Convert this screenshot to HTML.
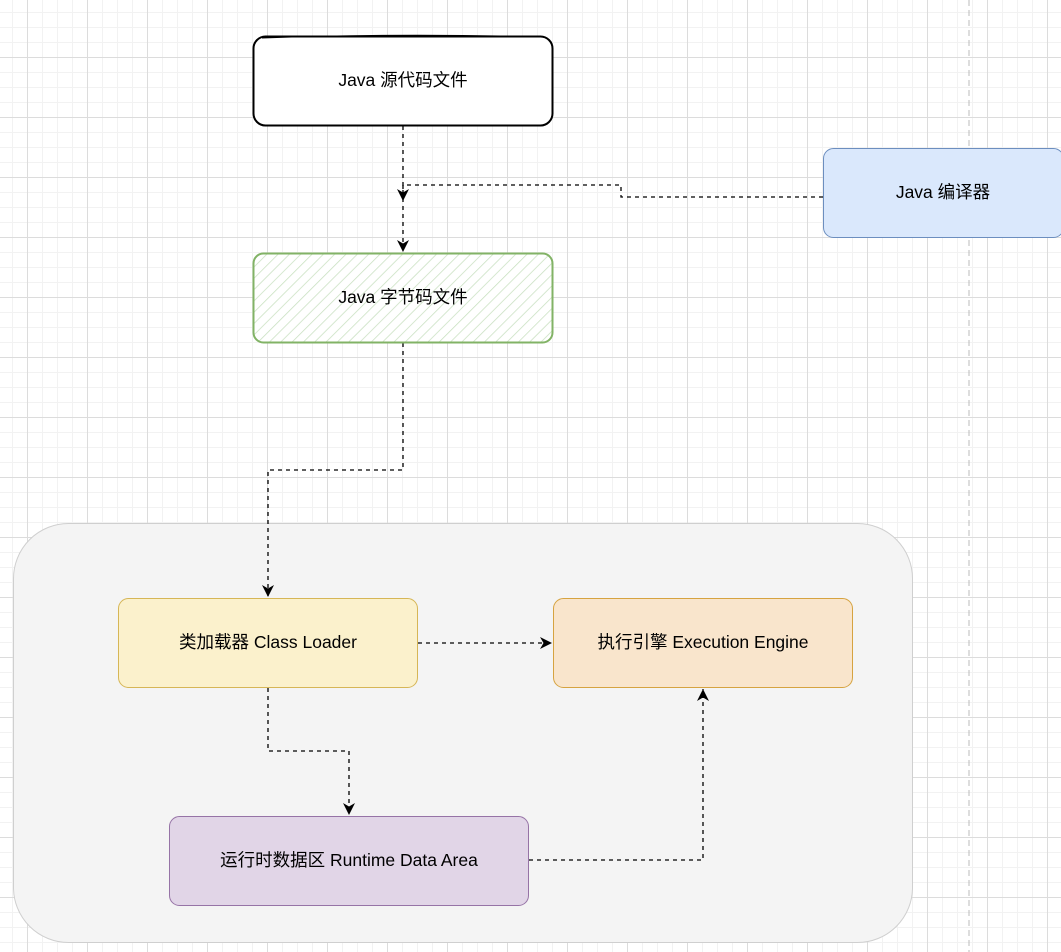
<!DOCTYPE html>
<html><head><meta charset="utf-8"><style>
html,body{margin:0;padding:0;background:#fff;}
svg{display:block;}
text{font-family:"Liberation Sans","Noto Sans CJK SC",sans-serif;font-size:17.5px;fill:#000;}
</style></head><body>
<svg width="1061" height="952" viewBox="0 0 1061 952" xmlns="http://www.w3.org/2000/svg">
<defs>
<pattern id="minor" width="15" height="15" patternUnits="userSpaceOnUse" x="12" y="12">
<path d="M0 0.5H15M0.5 0V15" stroke="#f2f2f2" stroke-width="1" fill="none"/>
</pattern>
<pattern id="major" width="60" height="60" patternUnits="userSpaceOnUse" x="27" y="-3">
<path d="M0 0.5H60M0.5 0V60" stroke="#dcdcdc" stroke-width="1" fill="none"/>
</pattern>
<pattern id="hatch" width="8" height="8" patternUnits="userSpaceOnUse" patternTransform="rotate(45)">
<line x1="0" y1="0" x2="0" y2="8" stroke="#c8e0c0" stroke-width="1.5"/>
</pattern>
<marker id="ar" markerWidth="14" markerHeight="14" refX="12" refY="6" orient="auto" markerUnits="userSpaceOnUse">
<path d="M0 0L12 6L0 12L3.5 6Z" fill="#000"/>
</marker>
</defs>
<rect width="1061" height="952" fill="url(#minor)"/>
<rect width="1061" height="952" fill="url(#major)"/>
<line x1="969" y1="0" x2="969" y2="952" stroke="#bbb" stroke-dasharray="6 4"/>

<rect x="13.5" y="523.5" width="899" height="419" rx="55" fill="#f4f4f4" stroke="#cfcfcf"/>

<g fill="none" stroke="#000" stroke-width="1.3" stroke-dasharray="4 4">
<path d="M403 126V252" marker-end="url(#ar)"/>
<path d="M823 197H621V185H403V201" marker-end="url(#ar)"/>
<path d="M403 343V470H268V597" marker-end="url(#ar)"/>
<path d="M418 643H552" marker-end="url(#ar)"/>
<path d="M268 688V751H349V815" marker-end="url(#ar)"/>
<path d="M529 860H703V689" marker-end="url(#ar)"/>
</g>

<rect x="253.5" y="36.5" width="299" height="89" rx="12" fill="#fff" stroke="#000" stroke-width="2"/>
<path d="M262 38 Q400 33 545 37" stroke="#000" fill="none" stroke-width="1"/>
<text x="403" y="86" text-anchor="middle">Java 源代码文件</text>

<rect x="253.5" y="253.5" width="299" height="89" rx="10" fill="#fff" stroke="none"/>
<rect x="253.5" y="253.5" width="299" height="89" rx="10" fill="url(#hatch)" stroke="#82b366" stroke-width="2"/>
<text x="403" y="303" text-anchor="middle">Java 字节码文件</text>

<rect x="823.5" y="148.5" width="240" height="89" rx="10" fill="#dae8fc" stroke="#6c8ebf"/>
<text x="943" y="198" text-anchor="middle">Java 编译器</text>

<rect x="118.5" y="598.5" width="299" height="89" rx="10" fill="#fbf1cc" stroke="#d6b656"/>
<text x="268" y="648" text-anchor="middle">类加载器 Class Loader</text>

<rect x="553.5" y="598.5" width="299" height="89" rx="10" fill="#f9e5cc" stroke="#d6a340"/>
<text x="703" y="648" text-anchor="middle">执行引擎 Execution Engine</text>

<rect x="169.5" y="816.5" width="359" height="89" rx="10" fill="#e1d5e7" stroke="#9673a6"/>
<text x="349" y="866" text-anchor="middle">运行时数据区 Runtime Data Area</text>
</svg>
</body></html>
